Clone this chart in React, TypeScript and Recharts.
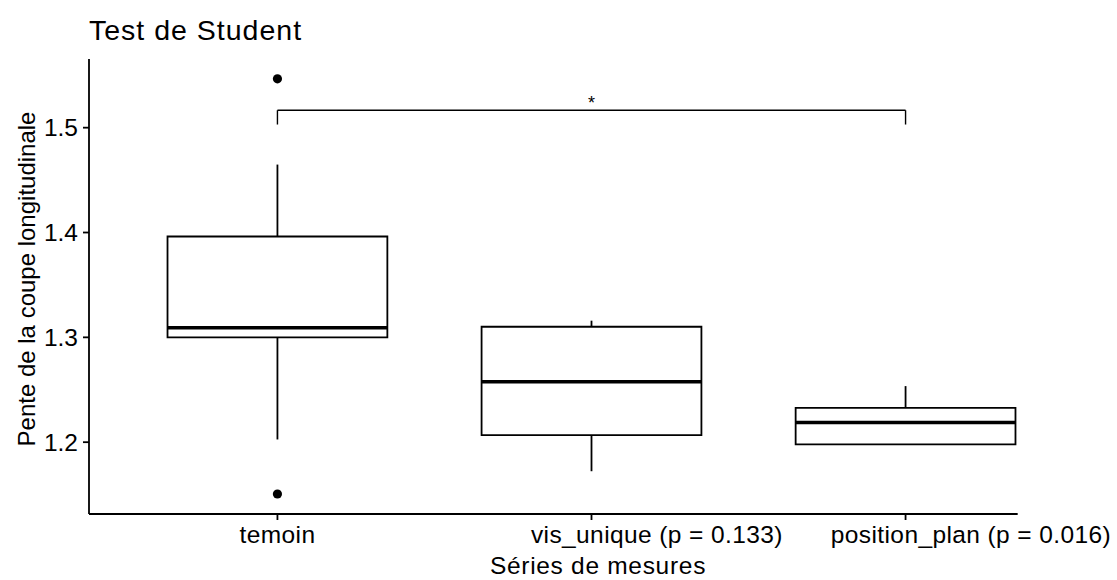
import React from "react";
import {
  ComposedChart,
  XAxis,
  YAxis,
  Scatter,
  ReferenceArea,
  ReferenceLine,
  ReferenceDot,
} from "recharts";

const FONT = '"Liberation Sans", Arial, Helvetica, sans-serif';

// one entry per group
const categories = ["temoin", "vis_unique", "position_plan"];
const pLabels = ["", "(p = 0.133)", "(p = 0.016)"];
const whiskerLow = [1.2026, 1.1723, 1.198];
const q1 = [1.3, 1.2067, 1.198];
const median = [1.3092, 1.2576, 1.2188];
const q3 = [1.3962, 1.3101, 1.2328];
const whiskerHigh = [1.4648, 1.3159, 1.2535];

// outlying points (group position, value)
const outlierGroup = [1, 1];
const outlierValue = [1.5466, 1.1506];

// significance bracket between temoin and position_plan
const bracketFrom = 1;
const bracketTo = 3;
const bracketTop = 1.5166;
const bracketFoot = 1.503;
const bracketText = "*";

const yTicks = [1.2, 1.3, 1.4, 1.5];
const Y_DOMAIN: [number, number] = [1.1315, 1.5655];
const X_DOMAIN: [number, number] = [0.4, 3.6];
const X_LINE_END = 3.357;
const BOX_HALF = 0.35;

const outliers = outlierGroup.map((g, i) => ({ x: g, y: outlierValue[i] }));

const TICK_SIZE = 24.5;
const TICK_SPACING = 0.4;
const LINE = 1.8;

let ctx: CanvasRenderingContext2D | null = null;
function textWidth(s: string, size: number) {
  if (!ctx) ctx = document.createElement("canvas").getContext("2d");
  if (!ctx) return s.length * size * 0.5;
  ctx.font = `${size}px "Liberation Sans", Arial`;
  return ctx.measureText(s).width + s.length * TICK_SPACING;
}

function XTick(props: any) {
  const { x, y, payload } = props;
  const i = Math.round(payload.value) - 1;
  const name = categories[i];
  if (!name) return null;
  const p = pLabels[i];
  // group name is centred on the tick, the p-value runs on to the right
  const start = x - textWidth(name, TICK_SIZE) / 2;
  return (
    <text
      x={start}
      y={y}
      dy="0.71em"
      textAnchor="start"
      fontSize={TICK_SIZE}
      fontFamily={FONT}
      letterSpacing={TICK_SPACING}
      fill="#000"
    >
      {p ? `${name} ${p}` : name}
    </text>
  );
}

export default function App() {
  return (
    <div
      style={{
        position: "absolute",
        left: 0,
        top: 0,
        width: 1117,
        height: 580,
        background: "#fff",
      }}
    >
      <ComposedChart
        width={1117}
        height={580}
        data={outliers}
        margin={{ top: 59, right: 23, bottom: 0, left: 0 }}
      >
        <XAxis
          type="number"
          dataKey="x"
          domain={X_DOMAIN}
          ticks={[1, 2, 3]}
          allowDataOverflow
          axisLine={false}
          tickLine={{ stroke: "#000", strokeWidth: LINE }}
          tickSize={6}
          tickMargin={6}
          height={66}
          tick={<XTick />}
          interval={0}
        />
        <YAxis
          type="number"
          dataKey="y"
          domain={Y_DOMAIN}
          ticks={yTicks}
          allowDataOverflow
          width={89}
          axisLine={{ stroke: "#000", strokeWidth: LINE }}
          tickLine={{ stroke: "#000", strokeWidth: LINE }}
          tickSize={6}
          tickMargin={5}
          tickFormatter={(v: number) => v.toFixed(1)}
          tick={{ fontSize: TICK_SIZE, fontFamily: FONT, fill: "#000" }}
        />

        {/* x axis line stops short of the panel edge in the original */}
        <ReferenceLine
          segment={[
            { x: X_DOMAIN[0], y: Y_DOMAIN[0] },
            { x: X_LINE_END, y: Y_DOMAIN[0] },
          ]}
          stroke="#000"
          strokeWidth={LINE}
          ifOverflow="visible"
        />

        {categories.map((c, i) => (
          <ReferenceArea
            key={`box-${c}`}
            x1={i + 1 - BOX_HALF}
            x2={i + 1 + BOX_HALF}
            y1={q1[i]}
            y2={q3[i]}
            fill="#fff"
            fillOpacity={1}
            stroke="#000"
            strokeWidth={LINE}
            ifOverflow="visible"
          />
        ))}
        {categories.map((c, i) => (
          <ReferenceLine
            key={`wh-${c}`}
            segment={[
              { x: i + 1, y: q3[i] },
              { x: i + 1, y: whiskerHigh[i] },
            ]}
            stroke="#000"
            strokeWidth={LINE}
            ifOverflow="visible"
          />
        ))}
        {categories.map((c, i) => (
          <ReferenceLine
            key={`wl-${c}`}
            segment={[
              { x: i + 1, y: q1[i] },
              { x: i + 1, y: whiskerLow[i] },
            ]}
            stroke="#000"
            strokeWidth={LINE}
            ifOverflow="visible"
          />
        ))}
        {categories.map((c, i) => (
          <ReferenceLine
            key={`med-${c}`}
            segment={[
              { x: i + 1 - BOX_HALF, y: median[i] },
              { x: i + 1 + BOX_HALF, y: median[i] },
            ]}
            stroke="#000"
            strokeWidth={3.6}
            ifOverflow="visible"
          />
        ))}

        <ReferenceLine
          segment={[
            { x: bracketFrom, y: bracketFoot },
            { x: bracketFrom, y: bracketTop },
          ]}
          stroke="#000"
          strokeWidth={1.4}
          ifOverflow="visible"
        />
        <ReferenceLine
          segment={[
            { x: bracketFrom, y: bracketTop },
            { x: bracketTo, y: bracketTop },
          ]}
          stroke="#000"
          strokeWidth={1.4}
          ifOverflow="visible"
        />
        <ReferenceLine
          segment={[
            { x: bracketTo, y: bracketTop },
            { x: bracketTo, y: bracketFoot },
          ]}
          stroke="#000"
          strokeWidth={1.4}
          ifOverflow="visible"
        />
        <ReferenceDot
          x={(bracketFrom + bracketTo) / 2}
          y={bracketTop}
          r={0}
          ifOverflow="visible"
          shape={(p: any) => (
            <text
              x={p.cx}
              y={p.cy - 1}
              textAnchor="middle"
              fontSize={18}
              fontFamily={FONT}
              fill="#000"
            >
              {bracketText}
            </text>
          )}
        />

        <Scatter
          dataKey="y"
          isAnimationActive={false}
          shape={(p: any) => <circle cx={p.cx} cy={p.cy} r={4.6} fill="#000" />}
        />
      </ComposedChart>

      {/* titles */}
      <svg
        width={1117}
        height={580}
        style={{ position: "absolute", left: 0, top: 0, pointerEvents: "none" }}
      >
        <text
          x={89}
          y={40}
          fontSize={28.5}
          letterSpacing={1}
          fontFamily={FONT}
          fill="#000"
        >
          Test de Student
        </text>
        <text
          x={598}
          y={574}
          textAnchor="middle"
          fontSize={24.5}
          letterSpacing={0.7}
          fontFamily={FONT}
          fill="#000"
        >
          Séries de mesures
        </text>
        <text
          x={35}
          y={279}
          transform="rotate(-90 35 279)"
          textAnchor="middle"
          fontSize={24}
          fontFamily={FONT}
          fill="#000"
        >
          Pente de la coupe longitudinale
        </text>
      </svg>
    </div>
  );
}
